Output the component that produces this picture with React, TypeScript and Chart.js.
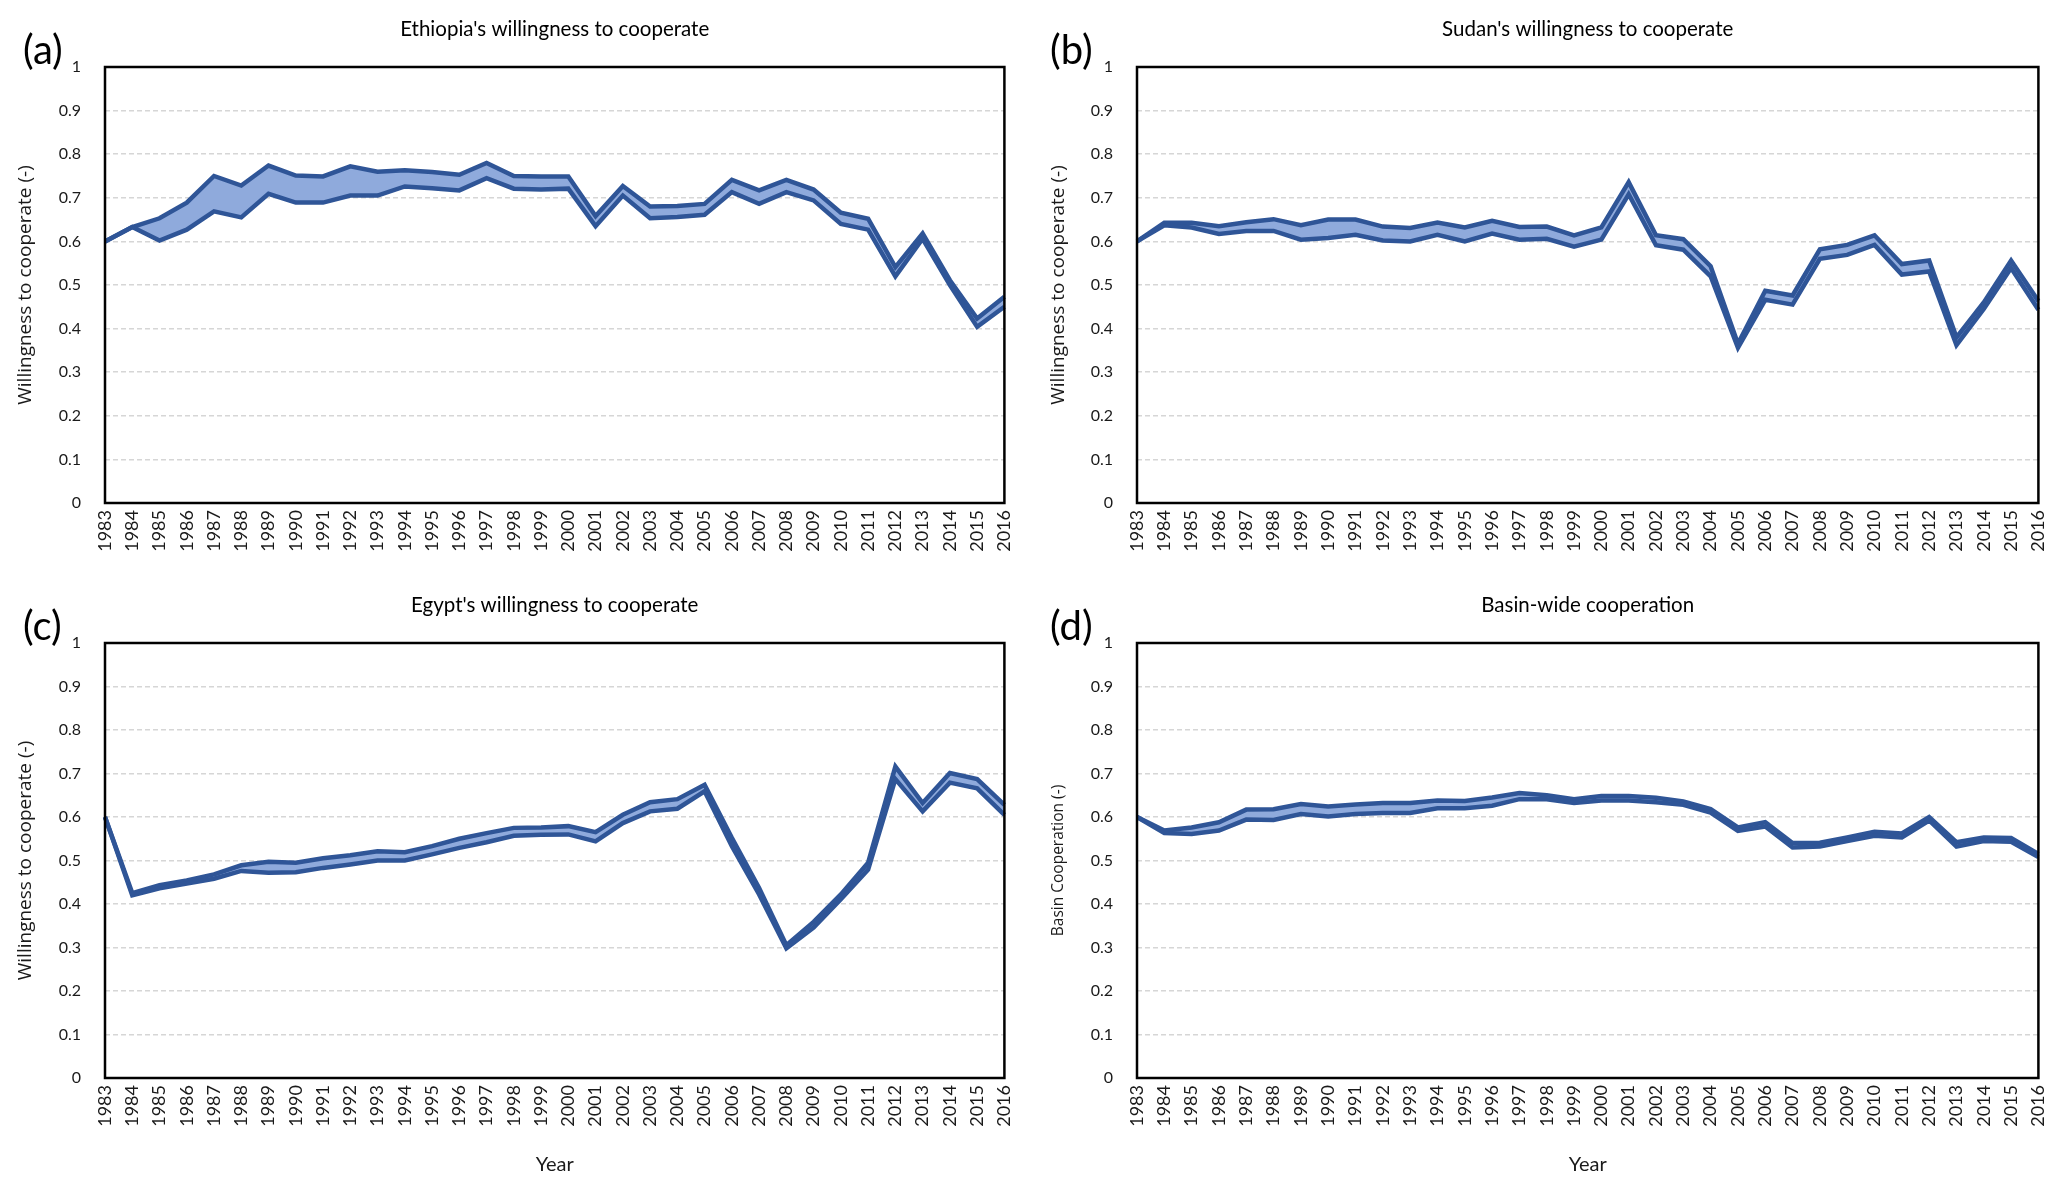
import React, { useEffect, useRef } from 'react';
import { Chart, registerables } from 'chart.js';

Chart.register(...registerables);

// ---------- data ----------
const years = [
  '1983', '1984', '1985', '1986', '1987', '1988', '1989', '1990', '1991', '1992', '1993', '1994',
  '1995', '1996', '1997', '1998', '1999', '2000', '2001', '2002', '2003', '2004', '2005', '2006',
  '2007', '2008', '2009', '2010', '2011', '2012', '2013', '2014', '2015', '2016',
];

const ethiopiaUpper = [
  0.600, 0.633, 0.653, 0.689, 0.750, 0.728, 0.774, 0.751, 0.749, 0.772, 0.760, 0.763, 0.759, 0.753, 0.780, 0.750, 0.749,
  0.749, 0.658, 0.727, 0.680, 0.681, 0.686, 0.741, 0.717, 0.741, 0.719, 0.666, 0.652, 0.541, 0.618, 0.511, 0.423, 0.473,
];
const ethiopiaLower = [
  0.600, 0.633, 0.602, 0.627, 0.669, 0.655, 0.709, 0.689, 0.689, 0.705, 0.705, 0.726, 0.722, 0.717, 0.745, 0.721, 0.719,
  0.721, 0.635, 0.705, 0.653, 0.656, 0.661, 0.713, 0.686, 0.713, 0.694, 0.640, 0.627, 0.520, 0.606, 0.500, 0.404, 0.450,
];

const sudanUpper = [
  0.600, 0.643, 0.643, 0.635, 0.644, 0.651, 0.637, 0.650, 0.650, 0.634, 0.631, 0.643, 0.632, 0.647, 0.633, 0.634, 0.614,
  0.632, 0.736, 0.614, 0.605, 0.543, 0.365, 0.487, 0.476, 0.582, 0.592, 0.614, 0.548, 0.556, 0.380, 0.460, 0.556, 0.463,
];
const sudanLower = [
  0.600, 0.637, 0.632, 0.617, 0.624, 0.624, 0.604, 0.608, 0.615, 0.602, 0.600, 0.615, 0.600, 0.618, 0.604, 0.606, 0.588,
  0.604, 0.708, 0.591, 0.581, 0.520, 0.356, 0.466, 0.455, 0.560, 0.569, 0.592, 0.524, 0.531, 0.362, 0.445, 0.539, 0.443,
];

const egyptUpper = [
  0.600, 0.425, 0.443, 0.454, 0.468, 0.489, 0.497, 0.495, 0.505, 0.512, 0.521, 0.519, 0.533, 0.550, 0.563, 0.575, 0.576,
  0.579, 0.565, 0.605, 0.634, 0.641, 0.674, 0.552, 0.437, 0.305, 0.359, 0.422, 0.495, 0.716, 0.632, 0.701, 0.687, 0.628,
];
const egyptLower = [
  0.600, 0.420, 0.436, 0.447, 0.458, 0.476, 0.472, 0.473, 0.483, 0.491, 0.500, 0.500, 0.514, 0.529, 0.542, 0.557, 0.559,
  0.560, 0.544, 0.586, 0.613, 0.619, 0.659, 0.533, 0.422, 0.298, 0.346, 0.411, 0.479, 0.687, 0.613, 0.679, 0.666, 0.605,
];

const basinUpper = [
  0.600, 0.569, 0.576, 0.588, 0.617, 0.618, 0.630, 0.624, 0.629, 0.632, 0.632, 0.638, 0.637, 0.645, 0.655, 0.650, 0.641,
  0.648, 0.648, 0.644, 0.636, 0.618, 0.576, 0.588, 0.540, 0.541, 0.553, 0.566, 0.562, 0.600, 0.542, 0.553, 0.552, 0.515,
];
const basinLower = [
  0.600, 0.563, 0.561, 0.569, 0.594, 0.593, 0.607, 0.601, 0.607, 0.609, 0.609, 0.620, 0.620, 0.626, 0.641, 0.641, 0.632,
  0.638, 0.638, 0.634, 0.628, 0.610, 0.568, 0.578, 0.530, 0.532, 0.545, 0.557, 0.553, 0.592, 0.532, 0.545, 0.543, 0.508,
];

const panelTitles = [
  "Ethiopia's willingness to cooperate",
  "Sudan's willingness to cooperate",
  "Egypt's willingness to cooperate",
  'Basin-wide cooperation',
];
const panelLetters = ['(a)', '(b)', '(c)', '(d)'];
const yTitles = [
  'Willingness to cooperate (-)',
  'Willingness to cooperate (-)',
  'Willingness to cooperate (-)',
  'Basin Cooperation (-)',
];
const xTitle = 'Year';

// ---------- styling ----------
const LINE = '#2F5597';
const FILL = '#8FAADC';
const TEXT = '#1a1a1a';
const TITLE_SIZE = 20.5;

const framePlugin = {
  id: 'frame',
  afterDatasetsDraw(chart: any) {
    const { ctx, chartArea } = chart;
    const { left, top, right, bottom } = chartArea;
    ctx.save();
    ctx.strokeStyle = '#000';
    ctx.lineWidth = 2.5;
    ctx.strokeRect(left, top, right - left, bottom - top);
    ctx.restore();
  },
};

interface PanelSpec {
  left: number;
  top: number;
  w: number;
  h: number;
  yAxisW: number;
  padRight: number;
  xAxisH: number;
  title: string;
  yTitle: string;
  yTitleSize: number;
  showX: boolean;
  upper: number[];
  lower: number[];
  letter: string;
  letterLeft: number;
  letterTop: number;
}

function makeConfig(p: PanelSpec): any {
  const titleLH = TITLE_SIZE * 1.2;
  const titleTop = 29 - titleLH / 2;
  return {
    type: 'line',
    data: {
      labels: years,
      datasets: [
        {
          label: 'lower',
          data: p.lower,
          borderColor: LINE,
          borderWidth: 4.5,
          pointRadius: 0,
          fill: false,
          tension: 0,
        },
        {
          label: 'upper',
          data: p.upper,
          borderColor: LINE,
          borderWidth: 4.5,
          pointRadius: 0,
          fill: '-1',
          backgroundColor: FILL,
          tension: 0,
        },
      ],
    },
    options: {
      responsive: false,
      animation: false,
      devicePixelRatio: 1,
      layout: { padding: { left: 0, right: p.padRight, top: 0, bottom: 0 } },
      plugins: {
        legend: { display: false },
        tooltip: { enabled: false },
        filler: { drawTime: 'beforeDatasetsDraw' },
        title: {
          display: true,
          text: p.title,
          fullSize: false,
          color: '#000',
          font: { family: 'Lato', size: TITLE_SIZE, weight: 'normal' },
          padding: { top: titleTop, bottom: 67 - titleTop - titleLH },
        },
      },
      scales: {
        x: {
          grid: { display: false, drawTicks: false },
          border: { display: false },
          ticks: {
            autoSkip: false,
            minRotation: 90,
            maxRotation: 90,
            padding: 7,
            color: TEXT,
            font: { family: 'Lato', size: 18 },
          },
          title: p.showX
            ? {
                display: true,
                text: xTitle,
                color: TEXT,
                font: { family: 'Lato', size: 20 },
                padding: { top: 0, bottom: 16 },
              }
            : { display: false },
          afterFit: (s: any) => {
            s.height = p.xAxisH;
          },
        },
        y: {
          min: 0,
          max: 1,
          ticks: {
            stepSize: 0.1,
            padding: 24,
            color: TEXT,
            font: { family: 'Lato', size: 16 },
            callback: (v: any) => String(Math.round(Number(v) * 10) / 10),
          },
          grid: { color: '#d6d6d6', lineWidth: 1.5, drawTicks: false },
          border: { display: false, dash: [5, 3] },
          title: {
            display: true,
            text: p.yTitle,
            color: TEXT,
            font: { family: 'Open Sans', size: p.yTitleSize },
            padding: { top: 26 - p.yTitleSize * 0.6, bottom: 0 },
          },
          afterFit: (s: any) => {
            s.width = p.yAxisW;
          },
        },
      },
    },
    plugins: [framePlugin],
  };
}

const panels: PanelSpec[] = [
  {
    left: 0, top: 0, w: 1033, h: 576, yAxisW: 105, padRight: 22, xAxisH: 73,
    title: panelTitles[0], yTitle: yTitles[0], yTitleSize: 19, showX: false,
    upper: ethiopiaUpper, lower: ethiopiaLower, letter: panelLetters[0], letterLeft: 23, letterTop: 29,
  },
  {
    left: 1033, top: 0, w: 1034, h: 576, yAxisW: 104, padRight: 26, xAxisH: 73,
    title: panelTitles[1], yTitle: yTitles[1], yTitleSize: 19, showX: false,
    upper: sudanUpper, lower: sudanLower, letter: panelLetters[1], letterLeft: 1050, letterTop: 29,
  },
  {
    left: 0, top: 576, w: 1033, h: 617, yAxisW: 105, padRight: 22, xAxisH: 115,
    title: panelTitles[2], yTitle: yTitles[2], yTitleSize: 19, showX: true,
    upper: egyptUpper, lower: egyptLower, letter: panelLetters[2], letterLeft: 23, letterTop: 605,
  },
  {
    left: 1033, top: 576, w: 1034, h: 617, yAxisW: 104, padRight: 26, xAxisH: 115,
    title: panelTitles[3], yTitle: yTitles[3], yTitleSize: 15.5, showX: true,
    upper: basinUpper, lower: basinLower, letter: panelLetters[3], letterLeft: 1050, letterTop: 605,
  },
];

function Panel({ spec }: { spec: PanelSpec }) {
  const ref = useRef<HTMLCanvasElement | null>(null);
  useEffect(() => {
    if (!ref.current) return;
    const chart = new Chart(ref.current, makeConfig(spec));
    return () => chart.destroy();
  }, [spec]);
  return (
    <>
      <canvas
        ref={ref}
        width={spec.w}
        height={spec.h}
        style={{
          position: 'absolute',
          left: spec.left,
          top: spec.top,
          width: spec.w,
          height: spec.h,
          display: 'block',
        }}
      />
      <div
        style={{
          position: 'absolute',
          left: spec.letterLeft,
          top: spec.letterTop,
          fontFamily: 'Lato, sans-serif',
          fontSize: 40,
          lineHeight: '40px',
          color: '#000',
        }}
      >
        {spec.letter}
      </div>
    </>
  );
}

export default function App() {
  return (
    <div
      style={{
        position: 'absolute',
        left: 0,
        top: 0,
        width: 2067,
        height: 1193,
        background: '#fff',
        overflow: 'hidden',
      }}
    >
      {panels.map((p, i) => (
        <Panel key={i} spec={p} />
      ))}
    </div>
  );
}
